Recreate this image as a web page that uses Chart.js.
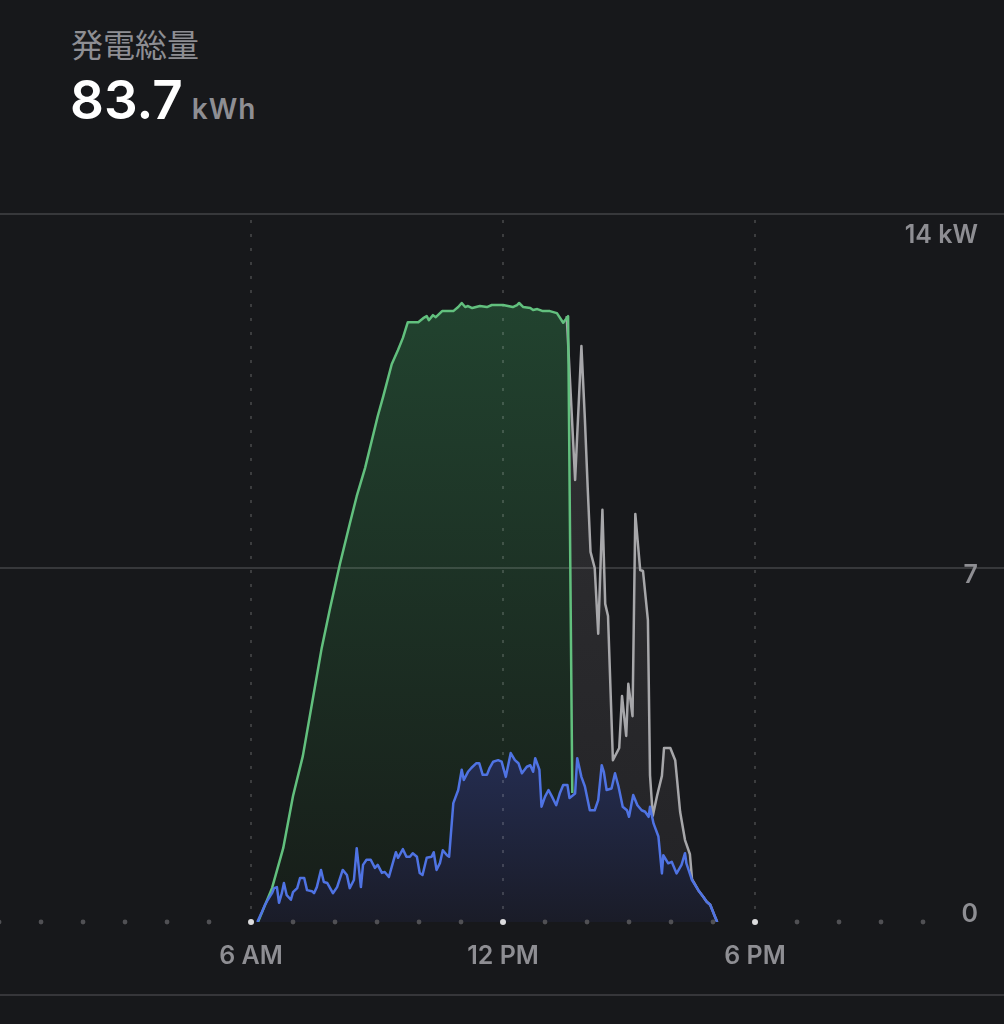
<!DOCTYPE html>
<html lang="ja">
<head>
<meta charset="utf-8">
<title>発電総量</title>
<script src="https://cdn.jsdelivr.net/npm/chart.js@4.4.1/dist/chart.umd.min.js"></script>
<style>
  html, body { margin: 0; padding: 0; background: #17181b; }
  body { width: 1004px; height: 1024px; position: relative; overflow: hidden; }
  #chart { position: absolute; left: 0; top: 0; }
  .title {
    position: absolute; left: 71px; top: 27px;
    font: 400 32px/32px "Noto Sans CJK JP", sans-serif; color: #8e8e93;
  }
  .total {
    position: absolute; left: 70px; top: 74px;
    font: 600 53px/53px Inter, "Noto Sans", sans-serif; color: #ffffff;
  }
  .total .unit {
    font-size: 28px; color: #8e8e93; margin-left: 9px; letter-spacing: 1px;
  }
</style>
</head>
<body>
<div class="title">発電総量</div>
<div class="total">83.7<span class="unit">kWh</span></div>
<canvas id="chart" width="1004" height="1024"></canvas>
<script>
// --- data (minutes since midnight, kW) ---
const greenTimes = [370, 390, 406, 420, 434, 449, 461, 473, 487, 501, 511, 523, 541, 549, 561, 570, 577, 584,
  599, 606, 611, 614, 620, 624, 633, 649, 656, 661, 666, 670, 676, 687, 697, 704, 720, 734, 740, 743, 749,
  759, 763, 769, 777, 787, 797, 806, 813, 819]
const greenKw = [0, 0.67, 1.46, 2.49, 3.28, 4.47, 5.42, 6.21, 7.08, 7.87, 8.42, 8.98, 10.0, 10.4, 11.03, 11.31, 11.55, 11.86,
  11.86, 11.94, 11.98, 11.9, 12.0, 11.96, 12.08, 12.08, 12.16, 12.24, 12.16, 12.18, 12.14, 12.18, 12.16, 12.2, 12.2, 12.16, 12.2, 12.24, 12.16,
  12.14, 12.1, 12.12, 12.08, 12.08, 12.04, 11.85, 11.98, 2.55]

const grayTimes = [811, 823, 832, 837, 841, 845, 851, 856, 862, 866, 870, 877, 886, 890, 896, 899, 905, 909, 916, 920,
  927, 930, 934, 940, 947, 950, 959, 966, 973, 980, 987, 990, 999, 1006, 1011, 1016, 1023, 1026]
const grayKw = [11.98, 8.74, 11.39, 9.93, 8.58, 7.32, 7.0, 5.7, 8.15, 6.29, 6.05, 3.2, 3.44, 4.47, 3.68, 4.71, 4.07, 8.07, 6.96, 6.94,
  5.97, 2.9, 2.1, 2.49, 2.89, 3.44, 3.44, 3.2, 2.18, 1.62, 1.34, 0.85, 0.63, 0.5, 0.4, 0.34, 0.1, 0]

const blueTimes = [369, 375, 380, 384, 390, 393, 397, 400, 404, 407,
  411, 417, 420, 426, 430, 436, 440, 447, 450, 454,
  460, 464, 469, 477, 483, 491, 497, 501, 507, 511,
  517, 520, 525, 531, 537, 541, 547, 551, 557, 561,
  567, 570, 577, 582, 587, 591, 597, 601, 605, 611,
  618, 621, 625, 630, 634, 640, 643, 649, 656, 661,
  664, 670, 675, 682, 686, 691, 697, 701, 706, 713,
  718, 724, 731, 737, 742, 747, 754, 759, 763, 766,
  772, 775, 780, 785, 790, 796, 801, 806, 812, 815,
  823, 826, 832, 837, 844, 851, 856, 861, 864, 868,
  875, 880, 885, 891, 897, 900, 906, 912, 918, 923,
  928, 930, 935, 942, 947, 949, 956, 961, 968, 975,
  980, 982, 990, 999, 1006, 1011, 1016, 1023, 1026]
const blueKw = [0, 0.18, 0.34, 0.44, 0.57, 0.67, 0.69, 0.38, 0.57, 0.77,
  0.53, 0.44, 0.59, 0.67, 0.87, 0.87, 0.63, 0.61, 0.57, 0.69,
  1.03, 0.79, 0.77, 0.57, 0.69, 1.03, 0.93, 0.67, 0.83, 1.46,
  0.69, 1.13, 1.23, 1.23, 1.07, 1.13, 0.97, 0.99, 0.89, 1.09,
  1.38, 1.27, 1.44, 1.29, 1.29, 1.36, 1.29, 0.97, 0.93, 1.27,
  1.29, 1.38, 1.03, 1.17, 1.42, 1.32, 1.29, 2.35, 2.61, 3.01,
  2.81, 2.97, 3.05, 3.14, 3.14, 2.91, 2.91, 3.05, 3.17, 3.2,
  3.17, 2.87, 3.34, 3.2, 3.14, 2.94, 3.07, 3.1, 2.97, 3.24,
  3.01, 2.28, 2.48, 2.61, 2.48, 2.31, 2.54, 2.71, 2.71, 2.45,
  2.54, 3.24, 2.87, 2.68, 2.21, 2.21, 2.41, 3.1, 2.97, 2.61,
  2.64, 2.94, 2.68, 2.28, 2.21, 2.08, 2.51, 2.31, 2.21, 2.18,
  2.08, 2.28, 1.95, 1.69, 0.96, 1.32, 1.16, 1.19, 0.96, 1.13,
  1.36, 1.16, 0.83, 0.63, 0.5, 0.4, 0.34, 0.1, 0]

const xTickTimes = [360, 720, 1080]
const xTickLabels = ['6 AM', '12 PM', '6 PM']
const yTicks = [0, 7, 14]
const yTickLabels = ['0', '7', '14 kW']
const dotHours = [0, 1, 2, 3, 4, 5, 6, 7, 8, 9, 10, 11, 12, 13, 14, 15, 16, 17, 18, 19, 20, 21, 22]

const toPoints = (ts, vs) => ts.map((t, i) => ({ x: t, y: vs[i] }))

// vertical gradient helper for fills
function grad(top, bottom, fromKw) {
  return (c) => {
    const { chart } = c
    const area = chart.chartArea
    if (!area) return top
    const yS = chart.scales.y
    const g = chart.ctx.createLinearGradient(0, yS.getPixelForValue(fromKw), 0, area.bottom)
    g.addColorStop(0, top)
    g.addColorStop(1, bottom)
    return g
  }
}

// grid under the lines, over the fills
const grid = {
  id: 'grid',
  beforeDatasetsDraw(chart) {
    const { ctx, chartArea: a, scales: { x, y } } = chart
    ctx.save()
    ctx.strokeStyle = 'rgba(255,255,255,0.14)'
    ctx.lineWidth = 2
    for (const v of yTicks) {
      if (v === 0) continue
      const py = Math.round(y.getPixelForValue(v))
      ctx.beginPath(); ctx.moveTo(0, py); ctx.lineTo(chart.width, py); ctx.stroke()
    }
    ctx.setLineDash([3, 11])
    ctx.strokeStyle = 'rgba(255,255,255,0.16)'
    for (const t of xTickTimes) {
      const px = Math.round(x.getPixelForValue(t))
      ctx.beginPath(); ctx.moveTo(px, a.top + 6); ctx.lineTo(px, a.bottom - 4); ctx.stroke()
    }
    ctx.restore()
  },
  afterDraw(chart) {
    const { ctx, chartArea: a, scales: { x, y } } = chart
    ctx.save()
    // hourly dots on the baseline
    for (const h of dotHours) {
      const major = xTickTimes.includes(h * 60)
      ctx.fillStyle = major ? '#dcdcde' : '#505054'
      ctx.beginPath()
      ctx.arc(x.getPixelForValue(h * 60), a.bottom, major ? 3 : 2.4, 0, Math.PI * 2)
      ctx.fill()
    }
    // x labels
    ctx.fillStyle = '#8e8e93'
    ctx.font = '600 25px Inter, "Noto Sans", sans-serif'
    ctx.textAlign = 'center'
    ctx.textBaseline = 'middle'
    xTickTimes.forEach((t, i) => ctx.fillText(xTickLabels[i], x.getPixelForValue(t), a.bottom + 34))
    // y labels, right side
    ctx.textAlign = 'right'
    ctx.textBaseline = 'alphabetic'
    yTicks.forEach((v, i) => {
      const py = y.getPixelForValue(v)
      let base = py + 15
      if (v === 0) base = py
      if (v === yTicks[yTicks.length - 1]) base = py + 29
      ctx.fillText(yTickLabels[i], 978, base)
    })
    // bottom rule
    ctx.fillStyle = '#36363a'
    ctx.fillRect(0, 994, chart.width, 2)
    ctx.restore()
  }
}

new Chart(document.getElementById('chart'), {
  type: 'line',
  data: {
    datasets: [
      {
        label: 'blue',
        data: toPoints(blueTimes, blueKw),
        borderColor: '#4f73e3',
        borderWidth: 2.5,
        backgroundColor: grad('#252e54', '#1a1c28', 3.6),
        fill: 'origin',
      },
      {
        label: 'green',
        data: toPoints(greenTimes, greenKw),
        borderColor: '#62c07e',
        borderWidth: 2.5,
        backgroundColor: grad('#234832', '#171d19', 14),
        fill: 'origin',
      },
      {
        label: 'gray',
        data: toPoints(grayTimes, grayKw),
        borderColor: '#a7a7aa',
        borderWidth: 2.5,
        backgroundColor: grad('#303033', '#232326', 12),
        fill: 'origin',
      },
    ],
  },
  options: {
    responsive: false,
    animation: false,
    devicePixelRatio: 1,
    layout: { padding: { top: 214, bottom: 102, left: 0, right: 0 } },
    elements: { point: { radius: 0 }, line: { tension: 0, borderJoinStyle: 'round' } },
    scales: {
      x: { type: 'linear', min: 1.4, max: 1435.7, display: false },
      y: { min: 0, max: 14, display: false },
    },
    plugins: {
      legend: { display: false },
      tooltip: { enabled: false },
      filler: { drawTime: 'beforeDatasetsDraw' },
    },
  },
  plugins: [grid],
})
</script>
</body>
</html>
